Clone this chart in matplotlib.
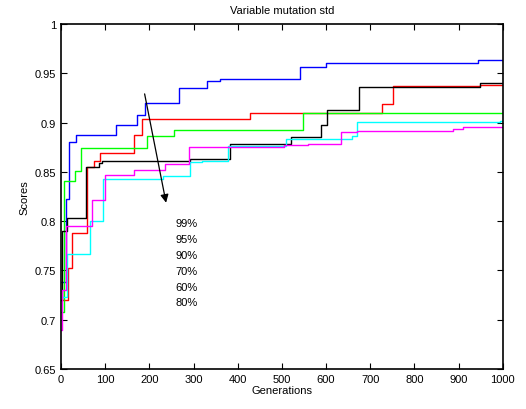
import numpy as np
import matplotlib
matplotlib.use("Agg")
import matplotlib.pyplot as plt

plt.rcParams['font.family'] = ['Liberation Sans', 'DejaVu Sans']

# step series: generation where score changes, and new score
gen_blue = [0, 11, 18, 33, 124, 172, 190, 267, 330, 360, 542, 600, 943, 1000]
sc_blue = [0.738, 0.823, 0.880, 0.888, 0.898, 0.908, 0.920, 0.935, 0.942, 0.944, 0.957, 0.961, 0.964, 0.964]

gen_red = [0, 16, 25, 58, 75, 88, 165, 183, 428, 727, 752, 948, 1000]
sc_red = [0.720, 0.753, 0.788, 0.855, 0.861, 0.869, 0.887, 0.904, 0.910, 0.919, 0.937, 0.938, 0.938]

gen_green = [0, 6, 32, 45, 194, 256, 547, 1000]
sc_green = [0.708, 0.841, 0.851, 0.874, 0.886, 0.893, 0.910, 0.910]

gen_black = [0, 3, 14, 56, 87, 92, 292, 382, 520, 588, 601, 674, 948, 1000]
sc_black = [0.720, 0.790, 0.803, 0.855, 0.859, 0.861, 0.863, 0.878, 0.885, 0.898, 0.913, 0.936, 0.940, 0.940]

gen_cyan = [0, 14, 66, 95, 231, 292, 318, 378, 509, 658, 669, 993, 1000]
sc_cyan = [0.723, 0.767, 0.800, 0.843, 0.846, 0.860, 0.861, 0.876, 0.883, 0.886, 0.901, 0.902, 0.902]

gen_magenta = [0, 2, 11, 71, 100, 165, 235, 290, 505, 560, 633, 669, 888, 910, 1000]
sc_magenta = [0.690, 0.730, 0.795, 0.822, 0.847, 0.852, 0.858, 0.875, 0.877, 0.878, 0.891, 0.892, 0.894, 0.896, 0.896]

labels = ['99%', '95%', '90%', '70%', '60%', '80%']

fig = plt.figure(figsize=(5.26, 4.10), dpi=100)
ax = fig.add_axes([0.116, 0.0976, 0.840, 0.841])

series = [(gen_blue, sc_blue, '#0000ff'), (gen_red, sc_red, '#ff0000'), (gen_green, sc_green, '#00ff00'),
          (gen_black, sc_black, '#000000'), (gen_cyan, sc_cyan, '#00ffff'), (gen_magenta, sc_magenta, '#ff00ff')]
for g, s, c in series:
    ax.plot(g, s, color=c, lw=1.0, drawstyle='steps-post')

ax.set_xlim(0, 1000)
ax.set_ylim(0.65, 1)
ax.set_xticks(np.arange(0, 1001, 100))
yt = np.arange(0.65, 1.001, 0.05)
ax.set_yticks(yt)
ax.set_yticklabels(['%g' % round(v, 2) for v in yt])
ax.tick_params(direction='in', top=True, right=True, labelsize=8, length=4, width=0.8)
for sp in ax.spines.values():
    sp.set_linewidth(1.2)

ax.set_title('Variable mutation std', fontsize=8, pad=8)
ax.set_xlabel('Generations', fontsize=8, labelpad=1)
ax.set_ylabel('Scores', fontsize=8, labelpad=4)

# arrow and level labels
ax.annotate('', xy=(239, 0.816), xytext=(188, 0.932),
            arrowprops=dict(arrowstyle='-|>', color='k', lw=0.9, mutation_scale=12))
for i, lab in enumerate(labels):
    ax.text(258, 0.7985 - i * 0.0162, lab, fontsize=8, va='center', ha='left')

fig.savefig('out.png', dpi=100)
